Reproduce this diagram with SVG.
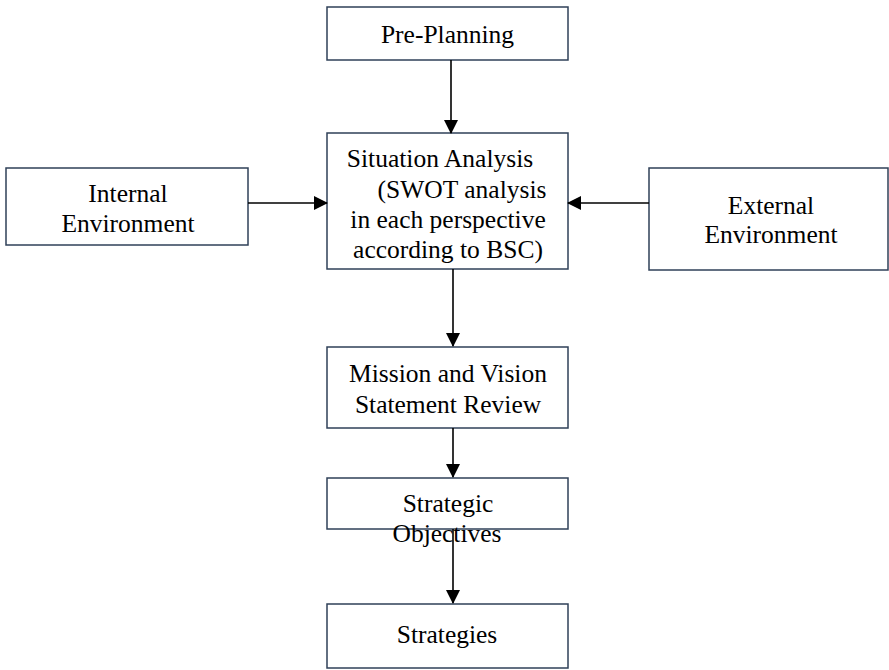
<svg xmlns="http://www.w3.org/2000/svg" width="889" height="670" viewBox="0 0 889 670">
<defs>
<style>
.box{fill:#ffffff;stroke:#2f4058;stroke-width:1.5}
.t{font-family:"Liberation Serif","Times New Roman",serif;font-size:25.5px;fill:#000;text-anchor:middle}
.c{stroke:#000;stroke-width:1.6;fill:none}
</style>
<marker id="ah" markerWidth="14" markerHeight="14" refX="13" refY="7" orient="auto" markerUnits="userSpaceOnUse">
<path d="M0,0 L14,7 L0,14 Z" fill="#000"/>
</marker>
</defs>
<rect width="889" height="670" fill="#fff"/>
<g id="pre-planning">
<rect class="box" x="327" y="7" width="241" height="53"/>
<text class="t" x="447.5" y="43">Pre-Planning</text>
</g>
<g id="situation-analysis">
<rect class="box" x="327" y="133" width="241" height="136"/>
<text class="t" x="440" y="167">Situation Analysis</text>
<text class="t" x="462" y="198">(SWOT analysis</text>
<text class="t" x="448" y="228">in each perspective</text>
<text class="t" x="448" y="258">according to BSC)</text>
</g>
<g id="internal-environment">
<rect class="box" x="6" y="168" width="242" height="77"/>
<text class="t" x="128" y="202">Internal</text>
<text class="t" x="128" y="232">Environment</text>
</g>
<g id="external-environment">
<rect class="box" x="649" y="168" width="239" height="102"/>
<text class="t" x="771" y="214">External</text>
<text class="t" x="771" y="243">Environment</text>
</g>
<g id="mission-vision">
<rect class="box" x="327" y="347" width="241" height="81"/>
<text class="t" x="448" y="382">Mission and Vision</text>
<text class="t" x="448" y="413">Statement Review</text>
</g>
<g id="strategic-objectives">
<rect class="box" x="327" y="478" width="241" height="51"/>
</g>
<g id="strategies">
<rect class="box" x="327" y="604" width="241" height="64"/>
<text class="t" x="447" y="643">Strategies</text>
</g>
<g id="connectors">
<line class="c" x1="451" y1="60" x2="451" y2="133" marker-end="url(#ah)"/>
<line class="c" x1="248" y1="203" x2="327" y2="203" marker-end="url(#ah)"/>
<line class="c" x1="649" y1="203" x2="568" y2="203" marker-end="url(#ah)"/>
<line class="c" x1="453" y1="269" x2="453" y2="346" marker-end="url(#ah)"/>
<line class="c" x1="453" y1="428" x2="453" y2="477" marker-end="url(#ah)"/>
<line class="c" x1="453" y1="529" x2="453" y2="603" marker-end="url(#ah)"/>
</g>
<g id="strategic-objectives-label">
<text class="t" x="448" y="512">Strategic</text>
<text class="t" x="447" y="542">Objectives</text>
</g>
</svg>
